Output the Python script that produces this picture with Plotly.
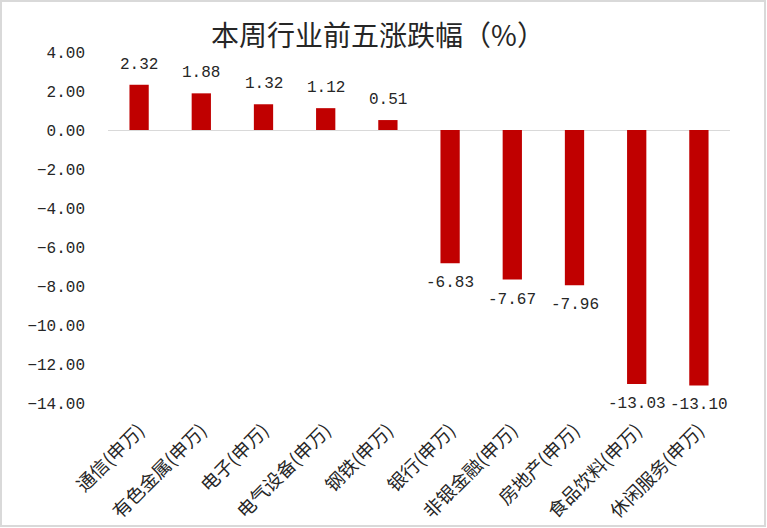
import plotly.graph_objects as go

categories = ["通信(申万)", "有色金属(申万)", "电子(申万)", "电气设备(申万)", "钢铁(申万)",
              "银行(申万)", "非银金融(申万)", "房地产(申万)", "食品饮料(申万)", "休闲服务(申万)"]
values = [2.32, 1.88, 1.32, 1.12, 0.51, -6.83, -7.67, -7.96, -13.03, -13.10]
y_ticks = [4, 2, 0, -2, -4, -6, -8, -10, -12, -14]

FONT = "Noto Sans CJK SC, Microsoft YaHei, sans-serif"
NUMFONT = "Liberation Mono, DejaVu Sans Mono, monospace"
TXT = "#262626"

fig = go.Figure()
fig.add_trace(go.Bar(
    x=categories, y=values,
    marker=dict(color="#C00000", line=dict(width=0)),
    width=0.31,
    hoverinfo="x+y",
))

annotations = []
for c, v in zip(categories, values):
    annotations.append(dict(
        x=c, y=v, xref="x", yref="y",
        text=f"{v:.2f}",
        showarrow=False,
        yanchor="bottom" if v >= 0 else "top",
        yshift=9 if v >= 0 else -9,
        font=dict(family=NUMFONT, size=16, color=TXT),
    ))

fig.update_layout(
    width=767, height=528,
    margin=dict(l=108, r=37, t=52, b=125, autoexpand=False),
    paper_bgcolor="white", plot_bgcolor="white",
    title=dict(text="本周行业前五涨跌幅（%）", x=378 / 767, xref="container", y=1 - 36 / 528, yref="container",
               xanchor="center", yanchor="middle",
               font=dict(family=FONT, size=28, color=TXT)),
    showlegend=False,
    annotations=annotations,
    shapes=[dict(type="rect", xref="paper", yref="paper",
                 x0=(1 - 108) / 622, x1=(765 - 108) / 622,
                 y0=(403 - 526) / 351, y1=(403 - 1) / 351,
                 line=dict(color="#d9d9d9", width=2), fillcolor="rgba(0,0,0,0)", layer="below")],
    xaxis=dict(
        type="category", tickangle=-45, showgrid=False, showline=False, ticks="",
        ticklabelstandoff=12, automargin=False,
        tickfont=dict(family=FONT, size=18.5, color=TXT),
    ),
    yaxis=dict(
        range=[-14, 4], tickvals=y_ticks, tickformat=".2f",
        showgrid=False, showline=False, ticks="", ticklabelstandoff=22, automargin=False,
        zeroline=True, zerolinecolor="#d9d9d9", zerolinewidth=1,
        tickfont=dict(family=NUMFONT, size=16, color=TXT),
    ),
)

fig.write_html("out.html")
